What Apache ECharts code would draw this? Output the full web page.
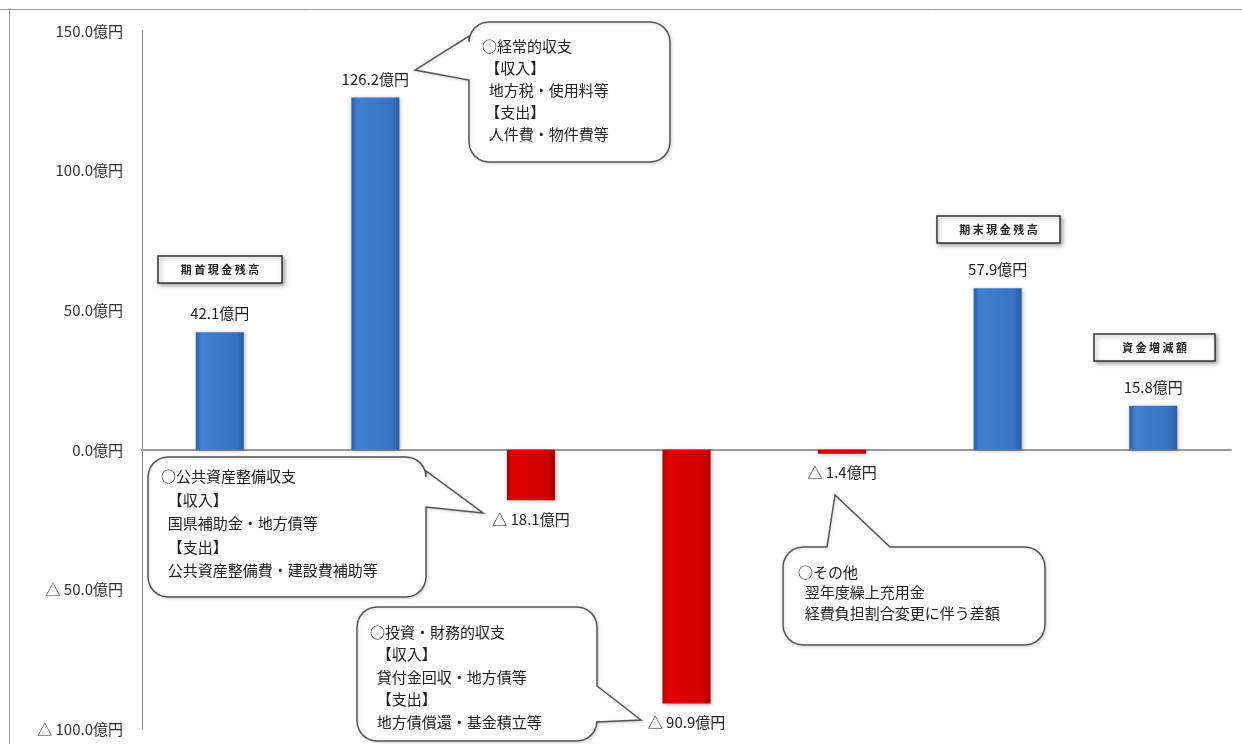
<!DOCTYPE html>
<html>
<head>
<meta charset="utf-8">
<script src="https://cdn.jsdelivr.net/npm/echarts@6/dist/echarts.min.js"></script>
<style>
  html, body { margin: 0; padding: 0; background: #fff; }
  #main { width: 1242px; height: 744px; }
</style>
</head>
<body>
<div id="main"></div>
<script>
// data (億円)
var categories = ["期首現金残高", "経常的収支", "公共資産整備収支", "投資・財務的収支", "その他", "期末現金残高", "資金増減額"];
var values = [42.1, 126.2, -18.1, -90.9, -1.4, 57.9, 15.8];
var yTicks = [-100, -50, 0, 50, 100, 150];

var FONT = '"Noto Sans CJK JP", "Noto Sans", sans-serif';

function yen(v) {
  if (v < 0) return "△ " + (-v).toFixed(1) + "億円";
  return v.toFixed(1) + "億円";
}

function grad(stops) {
  return { type: "linear", x: 0, y: 0, x2: 1, y2: 0, colorStops: stops };
}
var blueFill = grad([
  { offset: 0, color: "#2a5da6" },
  { offset: 0.12, color: "#3f80d2" },
  { offset: 0.85, color: "#3873c2" },
  { offset: 1, color: "#2a5ba2" }
]);
var redFill = grad([
  { offset: 0, color: "#b00000" },
  { offset: 0.12, color: "#e00000" },
  { offset: 0.85, color: "#d00000" },
  { offset: 1, color: "#a80000" }
]);

// quarter arc points around a corner centre
function arc(cx, cy, r, a0, a1, pts) {
  for (var i = 0; i <= 6; i++) {
    var t = (a0 + (a1 - a0) * i / 6) * Math.PI / 180;
    pts.push([cx + r * Math.cos(t), cy + r * Math.sin(t)]);
  }
}

// speech bubble outline: rounded rect with a tail on one side (clockwise)
function bubblePoints(x, y, w, h, r, side, a, b, tip) {
  var p = [];
  arc(x + r, y + r, r, 180, 270, p);
  if (side === "top") p.push([a, y], tip, [b, y]);
  arc(x + w - r, y + r, r, 270, 360, p);
  if (side === "right") p.push([x + w, a], tip, [x + w, b]);
  arc(x + w - r, y + h - r, r, 0, 90, p);
  arc(x + r, y + h - r, r, 90, 180, p);
  if (side === "left") p.push([x, a], tip, [x, b]);
  return p;
}

function bubble(x, y, w, h, side, a, b, tip, text, tx, ty, lh) {
  return [
    {
      type: "polygon",
      shape: { points: bubblePoints(x, y, w, h, 20, side, a, b, tip) },
      style: { fill: "#fff", stroke: "#555", lineWidth: 1.5,
               shadowBlur: 3, shadowColor: "rgba(0,0,0,0.15)", shadowOffsetX: 1, shadowOffsetY: 1 },
      z: 10
    },
    {
      type: "text", x: tx, y: ty, z: 11,
      style: { text: text, font: "15px " + FONT, fill: "#222", lineHeight: lh }
    }
  ];
}

function tagBox(x, y, w, h, text) {
  return [
    {
      type: "rect", shape: { x: x, y: y, width: w, height: h }, z: 10,
      style: { fill: "#fff", stroke: "#333", lineWidth: 1.5,
               shadowBlur: 4, shadowColor: "rgba(0,0,0,0.35)", shadowOffsetX: 2, shadowOffsetY: 2 }
    },
    {
      type: "text", x: x + w / 2, y: y + h / 2, z: 11,
      style: { text: text, font: "bold 11px " + FONT, fill: "#222", align: "center", verticalAlign: "middle" }
    }
  ];
}

var graphics = [].concat(
  [
    { type: "line", shape: { x1: 0, y1: 9.5, x2: 1242, y2: 9.5 }, style: { stroke: "#999", lineWidth: 1 } },
    { type: "line", shape: { x1: 9.5, y1: 9, x2: 9.5, y2: 744 }, style: { stroke: "#999", lineWidth: 1 } }
  ],
  bubble(469, 22, 201, 140, "left", 80, 36, [415, 70],
    "○経常的収支\n 【収入】\n  地方税・使用料等\n 【支出】\n  人件費・物件費等", 482, 35, 22),
  bubble(148, 457, 278, 140, "right", 471, 507, [483, 513],
    "○公共資産整備収支\n  【収入】\n  国県補助金・地方債等\n  【支出】\n  公共資産整備費・建設費補助等", 161, 465, 23.5),
  bubble(357, 607, 240, 134, "right", 686, 722, [641, 720],
    "○投資・財務的収支\n  【収入】\n  貸付金回収・地方債等\n  【支出】\n  地方債償還・基金積立等", 370, 621, 22.5),
  bubble(783, 547, 262, 98, "top", 827, 890, [835, 495],
    "○その他\n  翌年度繰上充用金\n  経費負担割合変更に伴う差額", 798, 562, 20.5),
  tagBox(158, 256, 124, 27, "期 首 現 金 残 高"),
  tagBox(937, 216, 123, 27, "期 末 現 金 残 高"),
  tagBox(1094, 334, 121, 27, "資 金 増 減 額")
);

var chart = echarts.init(document.getElementById("main"));
chart.setOption({
  animation: false,
  backgroundColor: "#fff",
  grid: { left: 142, right: 11, top: 31, bottom: 15 },
  xAxis: {
    type: "category",
    data: categories,
    axisLine: { onZero: true, lineStyle: { color: "#9a9a9a", width: 2 } },
    axisTick: { show: false },
    axisLabel: { show: false },
    splitLine: { show: false }
  },
  yAxis: {
    type: "value",
    min: yTicks[0],
    max: yTicks[yTicks.length - 1],
    interval: 50,
    axisLine: { show: true, lineStyle: { color: "#888", width: 1 } },
    axisTick: { show: false },
    splitLine: { show: false },
    axisLabel: {
      margin: 19,
      color: "#333",
      fontSize: 15,
      fontFamily: FONT,
      formatter: yen
    }
  },
  series: [
    {
      type: "bar",
      barWidth: 48,
      data: values.map(function (v) {
        return {
          value: v,
          itemStyle: {
            color: v < 0 ? redFill : blueFill,
            shadowBlur: 4,
            shadowColor: "rgba(0,0,0,0.3)",
            shadowOffsetX: 1,
            shadowOffsetY: 1
          },
          label: { position: v < 0 ? "bottom" : "top" }
        };
      }),
      label: {
        show: true,
        distance: 11,
        color: "#222",
        fontSize: 15,
        fontFamily: FONT,
        formatter: function (p) { return yen(p.value); }
      }
    }
  ],
  graphic: graphics
});
</script>
</body>
</html>
